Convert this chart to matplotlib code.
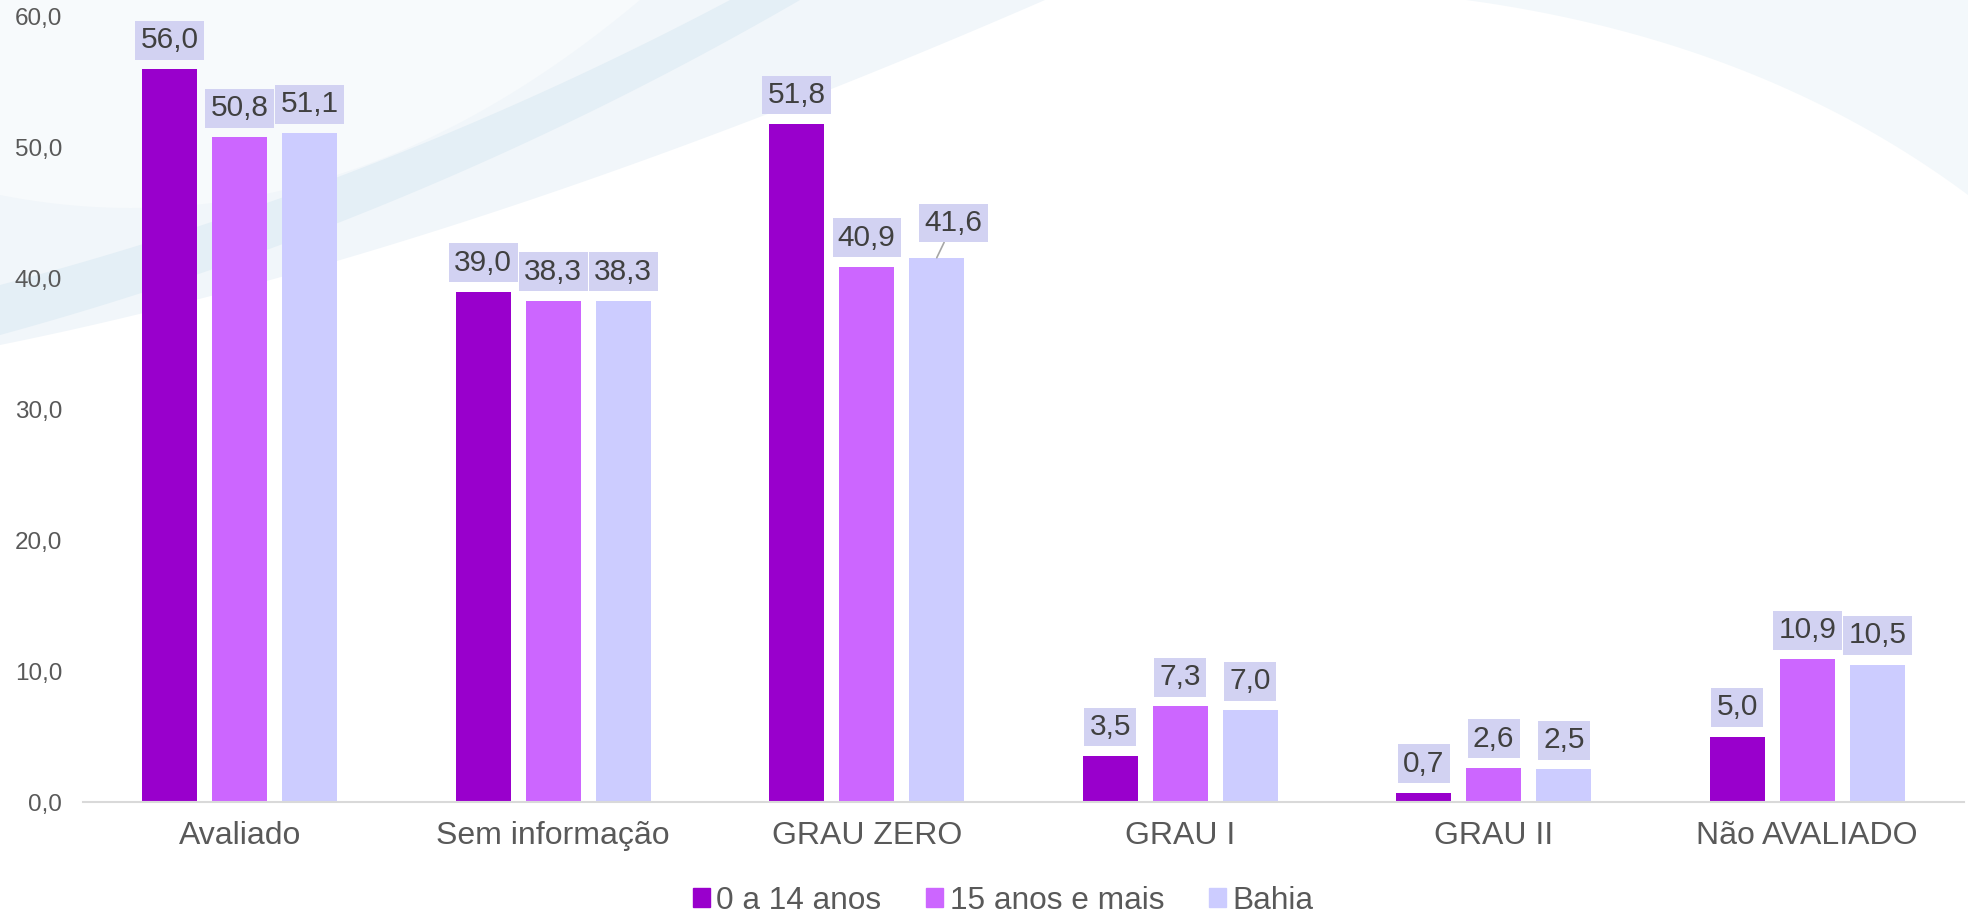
import matplotlib.pyplot as plt
import numpy as np
from matplotlib.patches import Patch

plt.rcParams["font.family"] = ["Liberation Sans", "DejaVu Sans"]

categories = ["Avaliado", "Sem informação", "GRAU ZERO", "GRAU I", "GRAU II", "Não AVALIADO"]
series_names = ["0 a 14 anos", "15 anos e mais", "Bahia"]
kids = [56.0, 39.0, 51.8, 3.5, 0.7, 5.0]
adults = [50.8, 38.3, 40.9, 7.3, 2.6, 10.9]
bahia = [51.1, 38.3, 41.6, 7.0, 2.5, 10.5]
colors = ["#9900CC", "#CC66FF", "#CCCCFF"]
yticks = [0, 10, 20, 30, 40, 50, 60]

W, H = 1968, 919
fig = plt.figure(figsize=(W / 100, H / 100), dpi=100)
fig.patch.set_facecolor("white")


def bezier(p0, p1, p2, n=200):
    t = np.linspace(0, 1, n)[:, None]
    return (1 - t) ** 2 * np.array(p0) + 2 * (1 - t) * t * np.array(p1) + t ** 2 * np.array(p2)


# decorative background swoosh (pixel coordinates)
bg = fig.add_axes([0, 0, 1, 1], zorder=-5)
bg.set_xlim(0, W)
bg.set_ylim(H, 0)
bg.axis("off")

c = bezier((0, 345), (470, 250), (1045, 0))
bg.fill(np.r_[c[:, 0], 0], np.r_[c[:, 1], 0], color="#F1F6FA", lw=0)
s = bezier((0, 335), (420, 220), (800, 0))
s2 = bezier((0, 285), (380, 185), (730, 0))
bg.fill(np.r_[s[:, 0], s2[::-1, 0]], np.r_[s[:, 1], s2[::-1, 1]], color="#E4EFF6", lw=0)
s3 = bezier((0, 195), (330, 260), (640, 0))
bg.fill(np.r_[s3[:, 0], 0], np.r_[s3[:, 1], 0], color="#F7FAFC", lw=0)
r = bezier((1466, 0), (1760, 40), (1968, 195))
bg.fill(np.r_[r[:, 0], W], np.r_[r[:, 1], 0], color="#F3F8FB", lw=0)

ax = fig.add_axes([83 / W, 1 - 802 / H, (1964 - 83) / W, (802 - 17) / H])
ax.set_facecolor("none")

x = np.arange(len(categories))
width = 0.1755
step = 0.2233
label_color = "#404040"
box = dict(boxstyle="square,pad=0.18", fc="#D2D2F2", ec="none")

for i, (vals, col) in enumerate(zip([kids, adults, bahia], colors)):
    pos = x + (i - 1) * step
    ax.bar(pos, vals, width, color=col, zorder=2)
    for k, (p, v) in enumerate(zip(pos, vals)):
        txt = f"{v:.1f}".replace(".", ",")
        if i == 2 and categories[k] == "GRAU ZERO":
            ax.annotate(txt, (p, v), xytext=(12, 25), textcoords="offset points",
                        ha="center", va="center", fontsize=21.5, color=label_color,
                        bbox=box, zorder=4,
                        arrowprops=dict(arrowstyle="-", color="#A6A6A6", lw=1.2,
                                        shrinkA=0, shrinkB=0))
        else:
            ax.annotate(txt, (p, v), xytext=(0, 21), textcoords="offset points",
                        ha="center", va="center", fontsize=21.5, color=label_color,
                        bbox=box, zorder=4)

ax.set_xlim(-0.5, len(categories) - 0.5)
ax.set_ylim(0, 60)
ax.set_yticks(yticks)
ax.set_yticklabels([f"{t:.1f}".replace(".", ",") for t in yticks])
ax.set_xticks(x)
ax.set_xticklabels(categories)
ax.tick_params(axis="y", length=0, pad=15, labelsize=17.5, labelcolor="#595959")
ax.tick_params(axis="x", length=0, pad=14, labelsize=23, labelcolor="#595959")
for side in ["left", "right", "top"]:
    ax.spines[side].set_visible(False)
ax.spines["bottom"].set_color("#D9D9D9")
ax.spines["bottom"].set_linewidth(1.5)

handles = [Patch(color=c_) for c_ in colors]
fig.legend(handles, series_names, loc="center", bbox_to_anchor=(1003 / W, 1 - 901 / H),
           ncol=3, frameon=False, fontsize=22.8, labelcolor="#595959",
           handlelength=0.55, handleheight=0.55, handletextpad=0.2, columnspacing=1.4)

fig.savefig("out.png", dpi=100)
